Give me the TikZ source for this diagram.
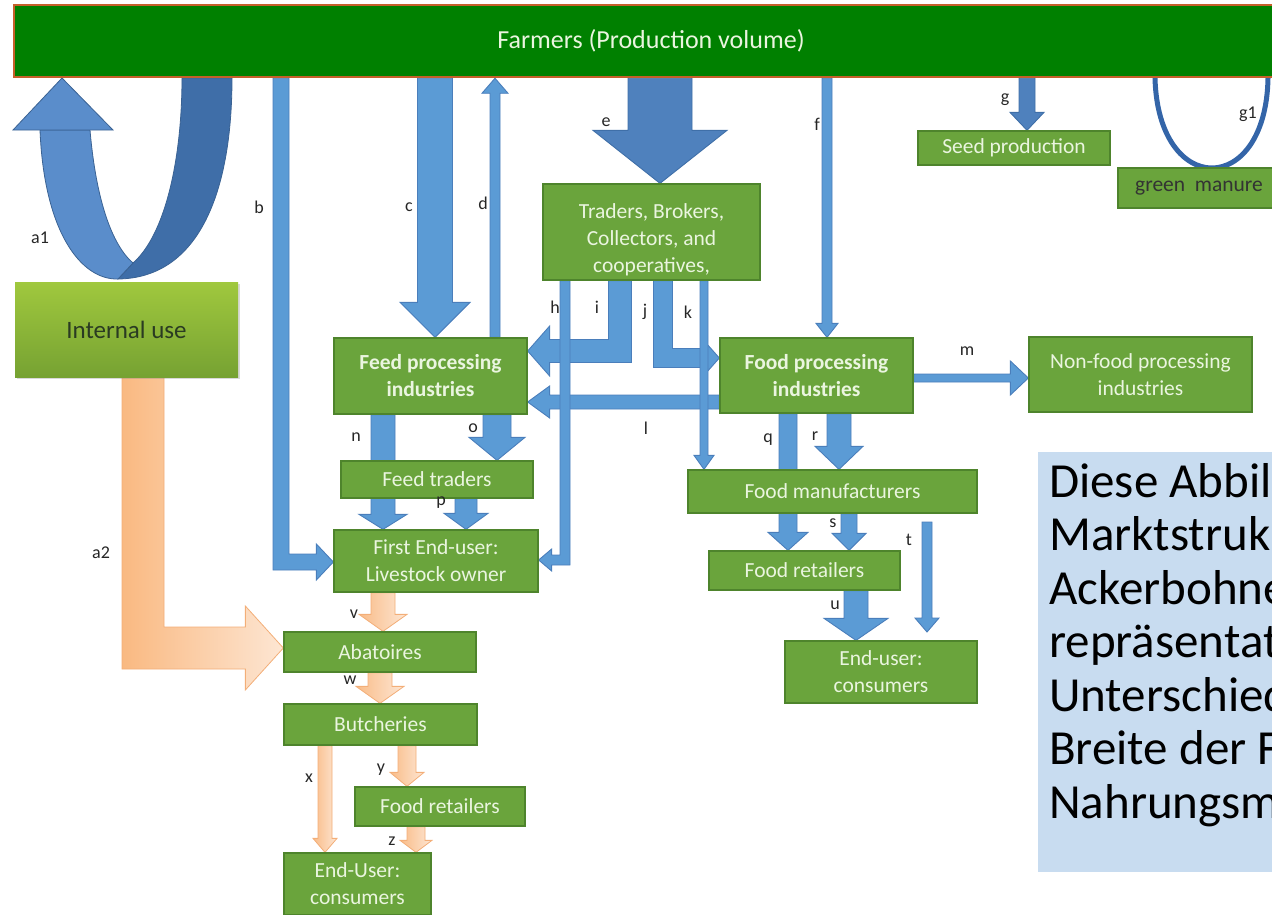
\documentclass[tikz,border=0pt]{standalone}
\usepackage{fontspec}
\setmainfont{Carlito}
\usetikzlibrary{calc,shadows}
\pgfdeclarelayer{bg}
\pgfsetlayers{bg,main}

\definecolor{boxg}{HTML}{6AA43C}
\definecolor{boxb}{HTML}{4E842C}
\definecolor{boxt}{HTML}{EAF5DF}
\definecolor{farm}{HTML}{008000}
\definecolor{farmb}{HTML}{C5602A}
\definecolor{arrb}{HTML}{5B9BD5}
\definecolor{arrbd}{HTML}{4A7EBB}
\definecolor{arre}{HTML}{4F81BD}
\definecolor{arred}{HTML}{3F6FA8}
\definecolor{oraL}{HTML}{F9BC88}
\definecolor{oraR}{HTML}{FDE6D3}
\definecolor{orab}{HTML}{F3AE78}
\definecolor{notebg}{HTML}{C8DCF0}
\definecolor{intT}{HTML}{A0C83E}
\definecolor{intB}{HTML}{76A232}
\definecolor{inttext}{HTML}{2A3B22}
\definecolor{aoneL}{HTML}{5A8DCB}
\definecolor{aoneD}{HTML}{3F6EA8}
\definecolor{aoneB}{HTML}{3A6293}
\definecolor{gonec}{HTML}{3465A8}

% straight block arrow: [style]{from}{to}{half shaft}{half head}{head length}
\newcommand\sarrow[6][]{%
  \path #2 coordinate (sA) #3 coordinate (sB);
  \path ($(sB)!#6!(sA)$) coordinate (sH);
  \path[#1] ($(sA)!#4!90:(sB)$) -- ($(sH)!#4!90:(sB)$) -- ($(sH)!#5!90:(sB)$) -- (sB)
    -- ($(sH)!#5!-90:(sB)$) -- ($(sH)!#4!-90:(sB)$) -- ($(sA)!#4!-90:(sB)$) -- cycle;}
% down-then-sideways block arrow
\newcommand\larrow[6][]{%
  \path #2 coordinate (lA) #3 coordinate (lB);
  \path[#1] let \p1=(lA), \p2=(lB), \n1={sign(\x2-\x1)} in
    ({\x1-\n1*#4},\y1) -- ({\x1-\n1*#4},{\y2-#4}) -- ({\x2-\n1*#6},{\y2-#4})
    -- ({\x2-\n1*#6},{\y2-#5}) -- (\x2,\y2) -- ({\x2-\n1*#6},{\y2+#5})
    -- ({\x2-\n1*#6},{\y2+#4}) -- ({\x1+\n1*#4},{\y2+#4}) -- ({\x1+\n1*#4},\y1) -- cycle;}

\begin{document}
\begin{tikzpicture}[x=1pt,y=-1pt,
  box/.style={draw=boxb, line width=1.3pt, fill=boxg, text=boxt, inner sep=0pt,
    align=center, font=\fontsize{21.5}{27}\selectfont},
  farmbox/.style={draw=farmb, line width=2.5pt, fill=farm, text=boxt, inner sep=0pt,
    font=\fontsize{26}{30}\selectfont},
  intbox/.style={top color=intT, bottom color=intB, draw=none, text=inttext,
    inner sep=0pt, font=\fontsize{25}{29}\selectfont, drop shadow={opacity=0.3}},
  barr/.style={draw=arrbd, line width=0.9pt, fill=arrb},
  earr/.style={draw=arred, line width=0.9pt, fill=arre},
  oarr/.style={draw=orab, line width=0.8pt, left color=oraL, right color=oraR},
  lbl/.style={font=\fontsize{18}{20}\selectfont, text=black!85, inner sep=0pt},
  notetext/.style={align=left, inner sep=0pt, font=\fontsize{49}{53.5}\selectfont, text=black}
]
\useasboundingbox (0,0) rectangle (1272,914);

% ---------- nodes ----------
\node[farmbox, minimum width=1274pt, minimum height=72pt] (farmers) at (651,41) {Farmers (Production volume)};
\node[intbox, minimum width=223pt, minimum height=95pt] (internal) at (126.5,329.5) {Internal use};
\node[box, minimum width=217pt, minimum height=96pt] (traders) at (651.5,232) {\rule{0pt}{30pt}Traders, Brokers,\\Collectors, and\\cooperatives,};
\node[box, minimum width=192pt, minimum height=34pt] (seed) at (1014,148) {Seed production};
\node[box, minimum width=162pt, minimum height=40pt, text=black!80] (manure) at (1199,188) {green\ \ manure};
\node[box, minimum width=193pt, minimum height=76pt, font=\fontsize{21.5}{27}\selectfont\bfseries] (feedp) at (430.5,376) {Feed processing\\industries};
\node[box, minimum width=193pt, minimum height=75pt, font=\fontsize{21.5}{27}\selectfont\bfseries] (foodp) at (816.5,375.5) {Food processing\\industries};
\node[box, minimum width=223pt, minimum height=75pt] (nonfood) at (1140.5,374.5) {Non-food processing\\industries};
\node[box, minimum width=192pt, minimum height=37pt] (feedtr) at (437,479.5) {Feed traders};
\node[box, minimum width=204pt, minimum height=62pt] (firstend) at (436,561) {First End-user:\\Livestock owner};
\node[box, minimum width=192pt, minimum height=40pt] (abat) at (380,652) {Abatoires};
\node[box, minimum width=193pt, minimum height=41pt] (butch) at (380.5,724.5) {Butcheries};
\node[box, minimum width=170pt, minimum height=39pt] (fretL) at (440,806.5) {Food retailers};
\node[box, minimum width=147pt, minimum height=62pt] (endL) at (357.5,884) {End-User:\\consumers};
\node[box, minimum width=289pt, minimum height=43pt] (fman) at (832.5,491.5) {Food manufacturers};
\node[box, minimum width=191pt, minimum height=39pt] (fretR) at (804.5,570.5) {Food retailers};
\node[box, minimum width=192pt, minimum height=62pt] (endR) at (881,672) {End-user:\\consumers};
\node[fill=notebg, minimum width=252pt, minimum height=420pt, inner sep=0pt] (note) at (1164,662) {};
\node[notetext, anchor=north west] (notetxt) at (1049,463)
  {Diese Abbil\\Marktstruk\\Ackerbohne\\repräsentat\\Unterschied\\Breite der F\\Nahrungsm};

% ---------- connectors (behind the boxes) ----------
\begin{pgfonlayer}{bg}
  % a1: U-turn from internal use back to farmers
  \path[fill=aoneD, draw=aoneB, line width=0.8pt] (118,279) -- (133,263)
     .. controls (165,235) and (182,160) .. (182,78) -- (232,78)
     .. controls (232,190) and (200,278) .. (118,279) -- cycle;
  \path[fill=aoneL, draw=aoneB, line width=0.8pt] (40,130) -- (90,130)
     .. controls (96,200) and (112,245) .. (133,263) -- (118,279)
     .. controls (80,280) and (44,230) .. (40,130) -- cycle;
  \path[fill=aoneL, draw=aoneB, line width=0.8pt] (13,130) -- (62,78) -- (113,130) -- cycle;
  % g1
  \draw[gonec, line width=5pt] (1155,78) .. controls (1158,198) and (1266,198) .. (1268,78);
  % a2
  \larrow[draw=orab, line width=0.8pt, left color=oraL!95!orange, right color=oraR]{(143,0 |- internal.south)}{(abat.west |- 0,648)}{21pt}{42pt}{38pt}
  % b
  \larrow[barr]{(281,0 |- farmers.south)}{(firstend.west |- 0,562)}{8pt}{18pt}{17pt}
  % c, d, e, f, g
  \sarrow[barr]{(435,0 |- farmers.south)}{(435,0 |- feedp.north)}{17.5pt}{35pt}{35pt}
  \sarrow[barr]{(495,0 |- feedp.north)}{(495,0 |- farmers.south)}{5pt}{13pt}{15pt}
  \sarrow[earr]{(660,0 |- farmers.south)}{(660,0 |- traders.north)}{32pt}{67pt}{53pt}
  \sarrow[barr]{(827,0 |- farmers.south)}{(827,0 |- foodp.north)}{5pt}{11pt}{14pt}
  \sarrow[earr]{(1027,0 |- farmers.south)}{(1027,0 |- seed.north)}{8pt}{17pt}{18pt}
  % i, j, l
  \larrow[barr]{(620,0 |- traders.south)}{(feedp.east |- 0,351)}{11.5pt}{25pt}{22pt}
  \larrow[barr]{(663,0 |- traders.south)}{(foodp.west |- 0,358)}{9.5pt}{18pt}{16pt}
  \sarrow[barr]{(foodp.west |- 0,402)}{(feedp.east |- 0,402)}{7pt}{16pt}{22pt}
  % h, k
  \larrow[barr]{(565,0 |- traders.south)}{(firstend.east |- 0,560)}{5pt}{11pt}{13pt}
  \sarrow[barr]{(704,0 |- traders.south)}{(704,0 |- fman.north)}{4pt}{10pt}{14pt}
  % m
  \sarrow[barr]{(foodp.east |- 0,378)}{(nonfood.west |- 0,378)}{4pt}{17pt}{18pt}
  % n, o, p
  \sarrow[barr]{(383,0 |- feedp.south)}{(383,0 |- firstend.north)}{12pt}{24pt}{15pt}
  \sarrow[barr]{(497,0 |- feedp.south)}{(497,0 |- feedtr.north)}{14pt}{28pt}{23pt}
  \sarrow[barr]{(466,0 |- feedtr.south)}{(466,0 |- firstend.north)}{11pt}{22pt}{16pt}
  % q, r, s, t, u
  \sarrow[barr]{(788,0 |- foodp.south)}{(788,0 |- fretR.north)}{9pt}{20pt}{18pt}
  \sarrow[barr]{(839,0 |- foodp.south)}{(839,0 |- fman.north)}{12pt}{24pt}{23pt}
  \sarrow[barr]{(849,0 |- fman.south)}{(849,0 |- fretR.north)}{8pt}{17pt}{17pt}
  \coordinate (tstart) at (927,522);
  \coordinate (tend) at (927,632);
  \sarrow[barr]{(tstart)}{(tend)}{5pt}{12pt}{14pt}
  \sarrow[barr]{(856,0 |- fretR.south)}{(856,0 |- endR.north)}{12pt}{32pt}{22pt}
  % v, w, x, y, z
  \sarrow[oarr]{(383,0 |- firstend.south)}{(383,0 |- abat.north)}{12pt}{24pt}{17pt}
  \sarrow[oarr]{(380,0 |- abat.south)}{(380,0 |- butch.north)}{12pt}{24pt}{17pt}
  \sarrow[oarr]{(325,0 |- butch.south)}{(325,0 |- endL.north)}{7pt}{12pt}{14pt}
  \sarrow[oarr]{(407,0 |- butch.south)}{(407,0 |- fretL.north)}{9pt}{17pt}{14pt}
  \sarrow[oarr]{(416,0 |- fretL.south)}{(416,0 |- endL.north)}{9pt}{16pt}{12pt}
\end{pgfonlayer}

% ---------- labels ----------
\node[lbl] (la1) at (40,238) {a1};
\node[lbl] (la2) at (101,553) {a2};
\node[lbl] (lb) at (259,207) {b};
\node[lbl] (lc) at (409,207) {c};
\node[lbl] (ld) at (483,203) {d};
\node[lbl] (le) at (606,122) {e};
\node[lbl] (lf) at (817,124) {f};
\node[lbl] (lg) at (1005,100) {g};
\node[lbl] (lgone) at (1248,114) {g1};
\node[lbl] (lh) at (555,307) {h};
\node[lbl] (li) at (597,307) {i};
\node[lbl] (lj) at (645,312) {j};
\node[lbl] (lk) at (688,312) {k};
\node[lbl] (ll) at (646,428) {l};
\node[lbl] (lm) at (967,351) {m};
\node[lbl] (ln) at (356,437) {n};
\node[lbl] (lo) at (473,428) {o};
\node[lbl] (lp) at (441,503) {p};
\node[lbl] (lq) at (768,440) {q};
\node[lbl] (lr) at (815,436) {r};
\node[lbl] (ls) at (833,523) {s};
\node[lbl] (lt) at (909,540) {t};
\node[lbl] (lu) at (835,605) {u};
\node[lbl] (lv) at (354,614) {v};
\node[lbl] (lw) at (350,680) {w};
\node[lbl] (lx) at (309,778) {x};
\node[lbl] (ly) at (381,770) {y};
\node[lbl] (lz) at (392,841) {z};
\end{tikzpicture}
\end{document}
